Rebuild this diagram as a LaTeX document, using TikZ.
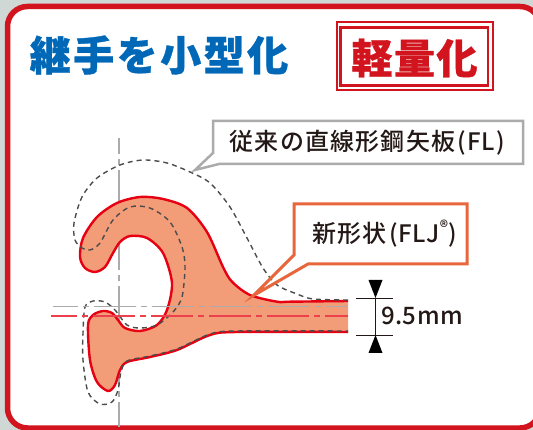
\documentclass[tikz,border=0pt]{standalone}
\usepackage{fontspec}
\setmainfont{Noto Sans CJK JP Medium}
\newfontfamily\heavyfont[FakeBold=0.8]{Noto Sans CJK JP Black}
\usetikzlibrary{calc}
\definecolor{framered}{HTML}{D2141E}
\definecolor{shapered}{HTML}{E60012}
\definecolor{shapefill}{HTML}{F39C78}
\definecolor{titleblue}{HTML}{0068B7}
\definecolor{calloutgray}{HTML}{ABABAB}
\definecolor{calloutorange}{HTML}{E8663C}
\definecolor{inkgray}{HTML}{231815}
\definecolor{backdrop}{HTML}{CFD8D5}
\tikzset{>=latex,
    centerline/.style={line width=1.2pt,dash pattern=on 42pt off 5pt on 6pt off 5pt},
    oldline/.style={draw=black!70,line width=1.4pt,dash pattern=on 5pt off 4pt},
    dimline/.style={draw=inkgray,line width=0.8pt},
    dimtip/.style={fill=black,draw=none},
    calloutlabel/.style={inner sep=0pt,text=inkgray}
}
\begin{document}
\begin{tikzpicture}[x=1pt,y=-1pt]
    \useasboundingbox (0,0) rectangle (533,430);
    \fill[backdrop] (0,0) rectangle (533,430);
    % panel
    \draw[framered,line width=5.5pt,fill=white,rounded corners=20pt] (7.5,6.5) rectangle (540,428);
    \node[inner sep=0pt,text=titleblue,font=\fontsize{41}{41}\heavyfont] (title) at (159,55) {継\hspace{2.5pt}手\hspace{2.5pt}を\hspace{2.5pt}小\hspace{2.5pt}型\hspace{2.5pt}化};
    \draw[framered,line width=2pt] (336.5,22.5) rectangle (492.5,90.5);
    \draw[framered,line width=2.5pt] (340.5,27.5) rectangle (488,85.5);
    \node[inner sep=0pt,text=framered,font=\fontsize{41}{41}\heavyfont] (tag) at (414.5,58) {軽\hspace{1.5pt}量\hspace{1.5pt}化};
    \draw[calloutgray,centerline,dash phase=26pt] (119,138) -- (119,427);
    % joint section
    \fill[shapefill] plot[smooth] coordinates {(348,301) (290,301.7) (277,301.7) (250,295) (232,281.7) (223,267) (207,232) (187,208) (163,199) (140,197) (117,203) (97,217) (83,238) (80,257) (85,268) (95,272) (105,267) (113,253) (120,242) (130,236) (147,238) (163,253) (172,283) (167,310) (157,325) (140,331) (125,328) (118,320) (112,313) (103,311) (93,315) (88,325) (90,360) (97,382) (108,391) (115,385) (120,370) (127,362) (150,357) (177,350) (210,335) (237,332) (348,332)} -- cycle;
    \draw[shapered,line width=2.4pt] plot[smooth] coordinates {(348,301) (290,301.7) (277,301.7) (250,295) (232,281.7) (223,267) (207,232) (187,208) (163,199) (140,197) (117,203) (97,217) (83,238) (80,257) (85,268) (95,272) (105,267) (113,253) (120,242) (130,236) (147,238) (163,253) (172,283) (167,310) (157,325) (140,331) (125,328) (118,320) (112,313) (103,311) (93,315) (88,325) (90,360) (97,382) (108,391) (115,385) (120,370) (127,362) (150,357) (177,350) (210,335) (237,332) (348,332)};
    \draw[oldline] plot[smooth] coordinates {(348,300) (313,299) (297,294) (277,285) (263,268) (247,238) (230,207) (210,183) (190,172) (167,163) (143,160) (120,165) (97,178) (82,197) (74,223) (75,240) (82,248) (90,250) (100,243) (113,220) (130,207) (150,208) (170,222) (182,247) (185,267) (182,297) (173,312) (157,325) (140,328) (127,325) (115,310) (105,302) (93,301) (85,307) (83,333) (83,360) (88,392) (100,404) (112,402) (118,390) (121,372) (127,361) (150,356) (177,349) (210,334) (237,331) (348,331)};
    % center lines
    \draw[calloutgray,centerline,dash phase=17pt] (53,306.5) -- (348,306.5);
    \draw[shapered!75,centerline,dash phase=16pt] (51,316) -- (348,316);
    % callouts
    \coordinate (fltip) at (195,170);
    \coordinate (flnw) at (213,121);
    \coordinate (flse) at (523,164);
    \draw[calloutgray,line width=2.5pt,line join=miter] (flnw) -- (flnw -| flse) -- (flse) -- (219,164) -- (fltip) -- (213,153) -- cycle;
    \node[calloutlabel,anchor=west,font=\fontsize{24}{24}\selectfont\addfontfeature{LetterSpace=5}] (fllabel) at (229.5,142.5) {従来の直線形鋼矢板\hspace{2pt}(FL)};
    \coordinate (fljtip) at (253.5,295.5);
    \coordinate (fljnw) at (294,204);
    \coordinate (fljse) at (467,264);
    \draw[calloutorange,line width=3pt,line join=miter,miter limit=12] (fljnw) -- (fljnw -| fljse) -- (fljse) -- (308,264) -- (fljtip) -- (294,255) -- cycle;
    \node[calloutlabel,anchor=west,font=\fontsize{24}{24}\selectfont\addfontfeature{LetterSpace=3}] (fljlabel) at (312.5,234) {新形状\hspace{3pt}(FLJ\textsuperscript{®})};
    % thickness
    \coordinate (dimtop) at (375.5,298);
    \coordinate (dimbot) at (375.5,335);
    \draw[dimline] (356,298) -- (393,298);
    \draw[dimline] (356,335) -- (393,335);
    \draw[dimline] (dimtop) -- (dimbot);
    \fill[dimtip] (dimtop) -- ++(-7,-18) -- ++(14,0) -- cycle;
    \fill[dimtip] (dimbot) -- ++(-7,18) -- ++(14,0) -- cycle;
    \node[calloutlabel,anchor=west,font=\fontsize{24}{24}\selectfont\addfontfeature{LetterSpace=2}] (dimlabel) at (381,316) {9.5mm};
\end{tikzpicture}
\end{document}
